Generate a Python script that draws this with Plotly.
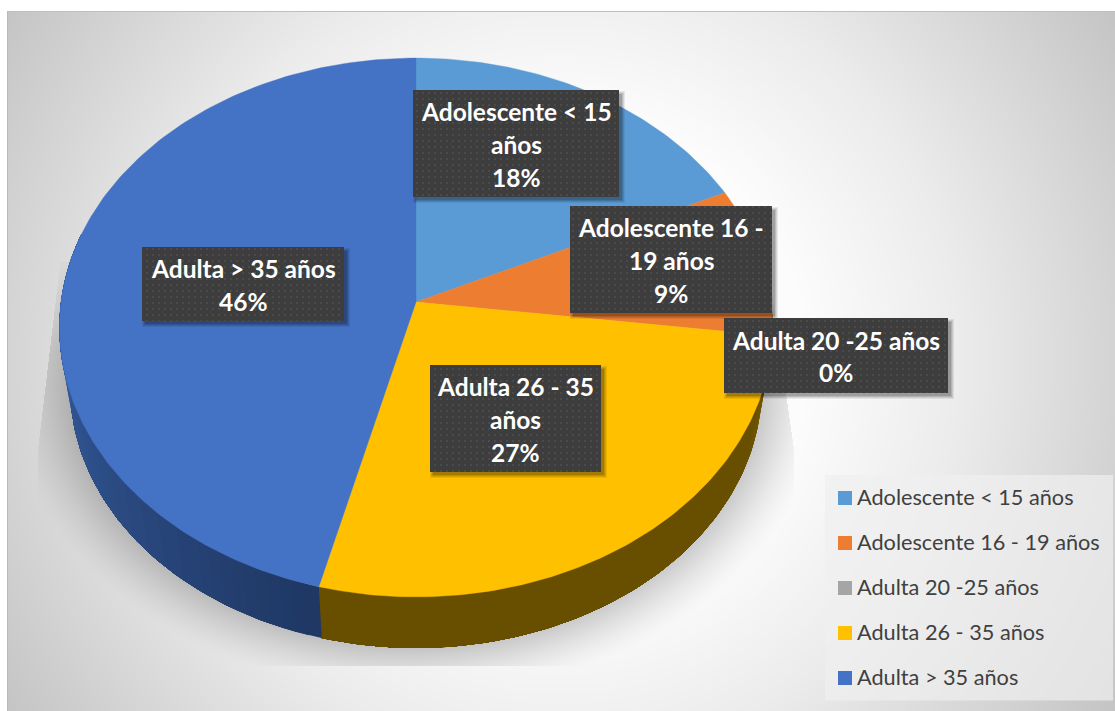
import textwrap
import numpy as np
import plotly.graph_objects as go

# Chart data
categories = ["Adolescente < 15 años", "Adolescente 16 - 19 años", "Adulta 20 -25 años",
              "Adulta 26 - 35 años", "Adulta > 35 años"]
percentages = [18, 9, 0, 27, 46]

# Styles
slice_colors = ["#5b9bd5", "#ed7d31", "#a5a5a5", "#ffc000", "#4472c4"]
wall_near = ["#2f5f8f", "#8f4a1c", "#636363", "#7a5c00", "#3a64aa"]
wall_far = ["#2f5f8f", "#8f4a1c", "#636363", "#684f00", "#1f3763"]
# Data label boxes: left, right, top, bottom, wrap width
label_boxes = [(413, 619, 90, 197, 16), (570, 772, 206, 313, 16), (724, 948, 318, 393, 18),
               (430, 601, 365, 472, 14), (142, 344, 247, 321, 16)]

W, H = 1115, 711
APEX_X, APEX_Y = 416.0, 302.0
SCALE_X, SCALE_Y, TILT = 355.0, 267.0, 0.0946
VANISH_Y, DEPTH = 2300.0, 0.03
LINE_STEP = 32.6


def rim(angle_deg, lower=False):
    """Project a rim point (clockwise from 12 o'clock) of the pie disc on to the page."""
    a = np.radians(angle_deg)
    u, v = np.sin(a), np.cos(a)
    d = 1 + TILT * v
    x = APEX_X + SCALE_X * u / d
    y = APEX_Y - SCALE_Y * v / d
    if lower:
        x = x + (APEX_X - x) * DEPTH
        y = y + (VANISH_Y - y) * DEPTH
    return x, y


def mix(c1, c2, t):
    a = [int(c1[i:i + 2], 16) for i in (1, 3, 5)]
    b = [int(c2[i:i + 2], 16) for i in (1, 3, 5)]
    return "rgb({},{},{})".format(*[round(p + (q - p) * t) for p, q in zip(a, b)])


def backdrop():
    """Radial chart-area gradient with the soft, clipped shadow under the pie."""
    yy, xx = np.mgrid[0:H, 0:W] + 0.5
    r = np.hypot(xx - 560, yy - 360)
    g = np.interp(r, [0, 250, 400, 530, 660, 720], [255, 252, 236, 216, 196, 190])

    rho = np.hypot((xx - 416) / 347, (yy - 382) / 265)
    s = np.maximum((rho - 1) * 300, 0)
    dark = np.clip(1 - s / 55, 0, 1) ** 1.4
    taper_l = 38 + 22 * np.clip((450 - yy) / 185, 0, None)
    taper_r = 794 - 26 * np.clip((450 - yy) / 185, 0, None)
    inside = (xx >= taper_l) & (xx <= taper_r) & (yy <= 666) & (yy >= 262)
    ramp = np.clip(0.3 + (yy - 262) / 130, 0, 1)
    g = g * (1 - 0.2 * dark * inside * ramp)

    g[:, :7] = 255
    g[:11, :] = 255
    g[11, 7:] = 190
    g[11:, 7] = 185
    return g.astype(np.uint8)


fig = go.Figure()
fig.add_trace(go.Heatmap(
    z=backdrop(), x=np.arange(W) + 0.5, y=np.arange(H) + 0.5,
    zmin=0, zmax=255, showscale=False, hoverinfo="skip",
    colorscale=[[0, "rgb(0,0,0)"], [1, "rgb(255,255,255)"]],
))


def polygon(xs, ys, color, width=0.0):
    fig.add_trace(go.Scatter(x=xs, y=ys, mode="lines", fill="toself", fillcolor=color,
                             line=dict(color=color, width=width), hoverinfo="skip",
                             showlegend=False))


# Cumulative angles of every slice
ends = np.cumsum(percentages) * 3.6
starts = np.concatenate([[0], ends[:-1]])

# Side wall, front half only. Each shade is painted from its own start to the end of the
# slice, so neighbouring shades overlap and leave no seam.
WALL_FROM, WALL_TO = 75.0, 285.0
for i, (a0, a1) in enumerate(zip(starts, ends)):
    lo, hi = max(a0, WALL_FROM), min(a1, WALL_TO)
    if hi <= lo:
        continue
    steps = max(int((hi - lo) / 2), 1)
    edges = np.linspace(lo, hi, steps + 1)
    for j in range(steps):
        t = (j + 0.5) / steps
        t = 1 - t if i == 4 else min(t * 6, 1)
        arc = np.linspace(edges[j], hi, max(int(hi - edges[j]), 2) + 1)
        tx, ty = rim(arc)
        bx, by = rim(arc[::-1], lower=True)
        polygon(np.r_[tx, bx, tx[0]], np.r_[ty, by, ty[0]], mix(wall_near[i], wall_far[i], t))

# Top face of the pie
for value, color, a0, a1 in zip(percentages, slice_colors, starts, ends):
    if value <= 0:
        continue
    arc = np.linspace(a0, a1, int(value * 4) + 2)
    ax, ay = rim(arc)
    polygon(np.r_[APEX_X, ax, APEX_X], np.r_[APEX_Y, ay, APEX_Y], color, width=0.4)

# Data labels: drop shadow, dotted dark box, text
for category, value, (left, right, top, bottom, wrap) in zip(categories, percentages, label_boxes):
    for grow, alpha in ((3, 0.07), (2, 0.09), (1, 0.11), (0, 0.14)):
        polygon([left + 3 - grow, right + 3 + grow, right + 3 + grow, left + 3 - grow, left + 3 - grow],
                [top + 4 - grow, top + 4 - grow, bottom + 3 + grow, bottom + 3 + grow, top + 4 - grow],
                f"rgba(0,0,0,{alpha})")
    fig.add_trace(go.Scatter(
        x=[left, right, right, left, left], y=[top, top, bottom, bottom, top],
        mode="lines", fill="toself", fillcolor="#3d3d3d", line=dict(width=0), hoverinfo="skip",
        showlegend=False,
        fillpattern=dict(shape=".", size=6, solidity=0.08, fgcolor="#505050", bgcolor="#3d3d3d",
                         fillmode="replace"),
    ))
    lines = textwrap.wrap(category, wrap) + [f"{value}%"]
    mid = (top + bottom) / 2 + 1
    for n, line in enumerate(lines):
        fig.add_annotation(x=(left + right) / 2, y=mid + (n - (len(lines) - 1) / 2) * LINE_STEP,
                           showarrow=False, text=f"<b>{line}</b>",
                           font=dict(family="Lato", size=24.5, color="#ffffff"))

# Legend panel and entries
polygon([825, 1113, 1113, 825, 825], [475, 475, 700.5, 700.5, 475], "rgba(240,240,240,0.7)")
for k, (category, color) in enumerate(zip(categories, slice_colors)):
    yc = 498 + 45 * k
    fig.add_trace(go.Scatter(x=[845], y=[yc], mode="markers", hoverinfo="skip", showlegend=False,
                             name=category,
                             marker=dict(symbol="square", size=14, color=color, line=dict(width=0))))
    fig.add_annotation(x=855, y=yc - 1, xanchor="left", showarrow=False, text=category,
                       font=dict(family="Lato", size=21.7, color="#404040"))

fig.update_layout(
    width=W, height=H, margin=dict(l=0, r=0, t=0, b=0, pad=0),
    paper_bgcolor="#ffffff", plot_bgcolor="#ffffff", showlegend=False,
    xaxis=dict(range=[0, W], visible=False, fixedrange=True),
    yaxis=dict(range=[H, 0], visible=False, fixedrange=True),
)
fig.write_html("out.html")
